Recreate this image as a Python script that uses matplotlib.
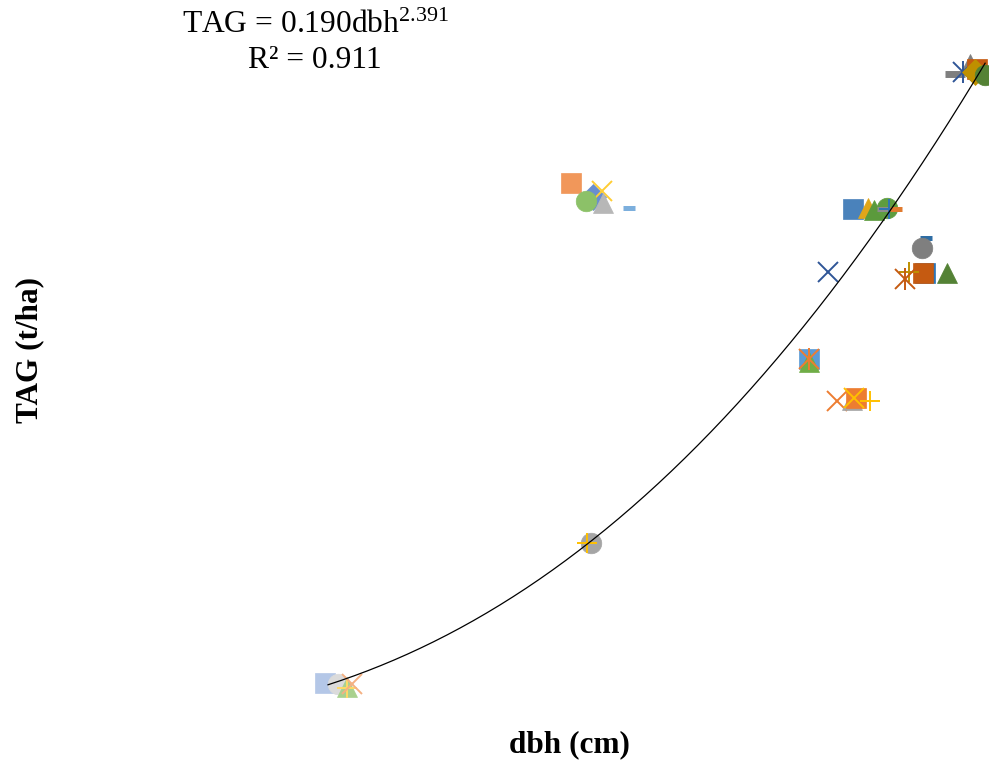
import numpy as np
import matplotlib
matplotlib.use("Agg")
import matplotlib.pyplot as plt

plt.rcParams['font.family'] = ['Liberation Serif', 'DejaVu Serif']
plt.rcParams['mathtext.fontset'] = 'custom'
plt.rcParams['mathtext.rm'] = 'Liberation Serif'
plt.rcParams['mathtext.it'] = 'Liberation Serif:italic'
plt.rcParams['mathtext.bf'] = 'Liberation Serif:bold'

# ---- data (dbh in cm, TAG in t/ha), in drawing order ----
pt_dbh = [
    9.60, 10.03, 10.33, 10.33, 10.50,                      # smallest plots
    17.80, 18.53, 18.83, 18.30, 18.87, 19.73,              # upper-left cluster
    27.20, 27.70, 27.90, 28.33, 28.20, 28.40, 28.63,       # cluster near curve
    29.63, 29.50, 29.60, 29.53, 29.07, 28.93, 30.33,       # right cluster
    26.37,
    25.73, 25.73, 25.73,
    26.67, 27.17, 27.30, 27.23, 27.77,
    18.47, 18.33,
    31.10, 30.60, 30.87, 31.33, 31.27, 31.60,
]
pt_tag = [
    45.7, 44.6, 40.5, 39.5, 44.6,
    599.4, 583.9, 590.6, 579.5, 577.3, 571.8,
    570.7, 571.8, 569.6, 571.8, 570.7, 570.7, 570.7,
    538.5, 527.4, 499.7, 499.7, 500.9, 493.1, 499.7,
    500.9,
    404.5, 401.2, 404.5,
    358.0, 359.1, 361.3, 361.3, 358.0,
    200.8, 200.8,
    731.2, 720.2, 722.3, 725.7, 722.3, 719.0,
]
pt_marker = [
    's', 'o', '^', '+', 'x',
    's', 'D', 'x', 'o', '^', 'dash',
    's', '^', '^', 'o', 'dash', '+', 'dash',
    'dash', 'o', 's', 's', '+', 'ast', '^',
    'x',
    's', '^', 'ast',
    'x', '^', 's', 'x', '+',
    'o', '+',
    '^', 'wdash', 'ast', 's', 'D', 'o',
]
pt_color = [
    '#b4c7e7', '#dbdbdb', '#a9d18e', '#ffd966', '#f4b183',
    '#f1975a', '#698ed0', '#ffcd33', '#8cc168', '#b7b7b7', '#7cafdd',
    '#4a82bb', '#e0a61a', '#5b9a3c', '#5e9c40', '#8c8c8c', '#2e75b6', '#e07a2e',
    '#2e6da4', '#7f7f7f', '#2e75b6', '#c55a11', '#bf9000', '#c55a11', '#548235',
    '#2f5597',
    '#5b9bd5', '#70ad47', '#ed7d31',
    '#ed7d31', '#a5a5a5', '#ed7d31', '#ffc000', '#ffc000',
    '#a5a5a5', '#ffc000',
    '#7f7f7f', '#7f7f7f', '#2f5597', '#c55a11', '#bf9000', '#548235',
]

# power-law fit
fit_a = 0.190
fit_b = 2.391
fit_r2 = 0.911
fit_range = (9.70, 31.60)

fig = plt.figure(figsize=(9.89, 7.65), dpi=100)
ax = fig.add_axes([37 / 989, 41 / 765, 952 / 989, 724 / 765])
ax.set_xlim(0, 31.73)
ax.set_ylim(0, 802)
ax.axis('off')

for x, y, m, c in zip(pt_dbh, pt_tag, pt_marker, pt_color):
    if m in ('s', 'o', '^'):
        ax.plot([x], [y], marker=m, ms=14.8, color=c, mec=c, mew=0.5, ls='none', clip_on=False)
    elif m == 'D':
        ax.plot([x], [y], marker='D', ms=13, color=c, mec=c, mew=0.5, ls='none', clip_on=False)
    elif m in ('x', '+'):
        ax.plot([x], [y], marker=m, ms=14, color=c, mew=1.4, ls='none', clip_on=False)
    elif m == 'ast':
        ax.plot([x], [y], marker='x', ms=14, color=c, mew=1.4, ls='none', clip_on=False)
        ax.plot([x], [y], marker='|', ms=16, color=c, mew=1.4, ls='none', clip_on=False)
    elif m == 'dash':
        ax.plot([x], [y], marker='_', ms=9, color=c, mew=3.6, ls='none', clip_on=False)
    elif m == 'wdash':
        ax.plot([x], [y], marker='_', ms=14, color=c, mew=5, ls='none', clip_on=False)

xs = np.linspace(fit_range[0], fit_range[1], 200)
ax.plot(xs, fit_a * xs ** fit_b, color='black', lw=0.9, clip_on=False)

fig.text(315 / 989, 1 - 33 / 765,
         'TAG = %.3fdbh$^{%.3f}$' % (fit_a, fit_b),
         ha='center', va='baseline', fontsize=22.7)
fig.text(315 / 989, 1 - 68 / 765, 'R² = %.3f' % fit_r2,
         ha='center', va='baseline', fontsize=22.7)

fig.text(569 / 989, 1 - 745 / 765, 'dbh (cm)', ha='center', va='center',
         fontsize=22.5, fontweight='bold')
fig.text(30 / 989, 1 - 350 / 765, 'TAG (t/ha)', ha='center', va='center',
         fontsize=22.5, fontweight='bold', rotation=90)

fig.savefig('out.png', dpi=100)
